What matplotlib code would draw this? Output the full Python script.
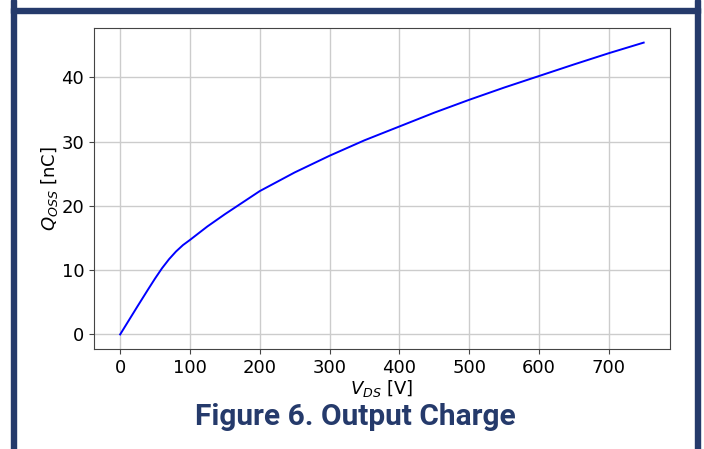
"""Output charge curve, Qoss vs Vds."""

import matplotlib

matplotlib.use("Agg")
import matplotlib.pyplot as plt
from matplotlib.patches import Rectangle

NAVY = "#253a6b"

# values
vds = [0, 25, 40, 50, 60, 70, 80, 90, 100, 125, 150, 200, 250, 300, 350,
       400, 450, 500, 550, 600, 650, 700, 750]
qoss = [0.0, 4.4, 7.0, 8.7, 10.3, 11.7, 12.9, 13.9, 14.7, 16.8, 18.7, 22.3,
        25.2, 27.8, 30.2, 32.35, 34.5, 36.5, 38.4, 40.2, 42.0, 43.75, 45.4]

x_ticks = [0, 100, 200, 300, 400, 500, 600, 700]
y_ticks = [0, 10, 20, 30, 40]
caption = "Figure 6. Output Charge"

fig = plt.figure(figsize=(7.04, 4.49), dpi=100)
ax = fig.add_axes([0.1335, 0.2227, 0.818, 0.7149])

ax.plot(vds, qoss, color="blue", linewidth=1.4)
ax.set_xticks(x_ticks)
ax.set_yticks(y_ticks)
ax.tick_params(labelsize=13, color="#444444")
ax.grid(True, color="#cccccc", linewidth=1.0)
for spine in ax.spines.values():
    spine.set_color("#444444")

ax.set_xlabel(r"$V_{DS}$ [V]", fontsize=13, labelpad=1)
ax.set_ylabel(r"$Q_{OSS}$ [nC]", fontsize=13, labelpad=1)

# frame drawn around the figure (left, top, right only)
W, H = 704, 449
fig.patches.append(Rectangle((11 / W, 0), 5 / W, 1, transform=fig.transFigure,
                             color=NAVY, zorder=0))
fig.patches.append(Rectangle((695 / W, 0), 5 / W, 1, transform=fig.transFigure,
                             color=NAVY, zorder=0))
fig.patches.append(Rectangle((11 / W, 1 - 13 / H), 689 / W, 4.5 / H,
                             transform=fig.transFigure, color=NAVY, zorder=0))

fig.text(355 / W, 1 - 417 / H, caption, ha="center", va="center",
         fontsize=21.5, fontweight="bold", family="Roboto", color=NAVY)

fig.savefig("out.png", dpi=100)
